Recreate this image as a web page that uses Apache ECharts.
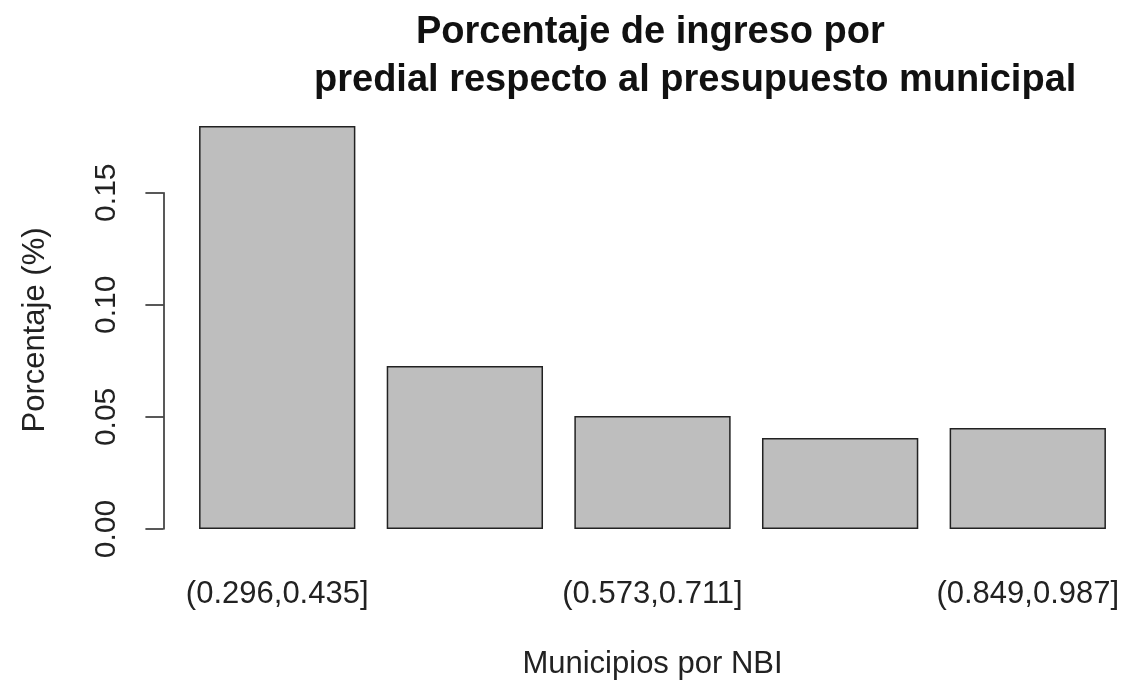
<!DOCTYPE html>
<html>
<head>
<meta charset="utf-8">
<script src="https://cdn.jsdelivr.net/npm/echarts@6/dist/echarts.min.js"></script>
<style>
  html, body { margin: 0; padding: 0; background: #fff; }
  #chart { width: 1126px; height: 686px; }
</style>
</head>
<body>
<div id="chart"></div>
<script>
// intervalos de NBI
const categories = ["(0.296,0.435]", "(0.435,0.573]", "(0.573,0.711]", "(0.711,0.849]", "(0.849,0.987]"];
// porcentaje de ingreso predial
const values = [0.1797, 0.0727, 0.0504, 0.0406, 0.0450];
const yTicks = [0, 0.05, 0.10, 0.15];

const font = "Liberation Sans, Arial, Helvetica, sans-serif";
const myChart = echarts.init(document.getElementById("chart"));

const option = {
  animation: false,
  backgroundColor: "#ffffff",
  title: [
    {
      text: "Porcentaje de ingreso por",
      left: 411,
      top: 9,
      textStyle: { fontFamily: font, fontSize: 38, fontWeight: "bold", color: "#111" },
    },
    {
      text: "predial respecto al presupuesto municipal",
      left: 309,
      top: 57,
      textStyle: { fontFamily: font, fontSize: 38, fontWeight: "bold", color: "#111" },
    },
  ],
  graphic: [
    {
      type: "text",
      x: 35,
      y: 330,
      rotation: Math.PI / 2,
      style: {
        text: "Porcentaje (%)",
        font: "31px " + font,
        fill: "#222",
        textAlign: "center",
        textVerticalAlign: "middle",
      },
    },
  ],
  grid: {
    left: 183.4,
    right: 4.4,
    top: 192.7,
    bottom: 157,
    containLabel: false,
    outerBoundsMode: "none",
  },
  xAxis: {
    type: "category",
    data: categories,
    axisLine: { show: false },
    axisTick: { show: false },
    axisLabel: {
      interval: 1,
      margin: 50,
      fontFamily: font,
      fontSize: 31,
      color: "#222",
    },
    name: "Municipios por NBI",
    nameLocation: "middle",
    nameGap: 120,
    nameTextStyle: { fontFamily: font, fontSize: 31, color: "#222" },
  },
  yAxis: {
    type: "value",
    min: 0,
    max: yTicks[yTicks.length - 1],
    interval: 0.05,
    offset: 20,
    splitLine: { show: false },
    axisLine: { show: true, lineStyle: { color: "#222", width: 1.5 } },
    axisTick: { show: true, length: 18, lineStyle: { color: "#222", width: 1.5 } },
    axisLabel: {
      rotate: 90,
      margin: 42,
      fontFamily: font,
      fontSize: 30,
      color: "#222",
      formatter: (v) => v.toFixed(2),
    },
  },
  series: [
    {
      type: "bar",
      data: values,
      barWidth: "83.3%",
      clip: false,
      itemStyle: {
        color: "#bebebe",
        borderColor: "#222",
        borderWidth: 1.5,
      },
    },
  ],
};

option && myChart.setOption(option);
</script>
</body>
</html>
